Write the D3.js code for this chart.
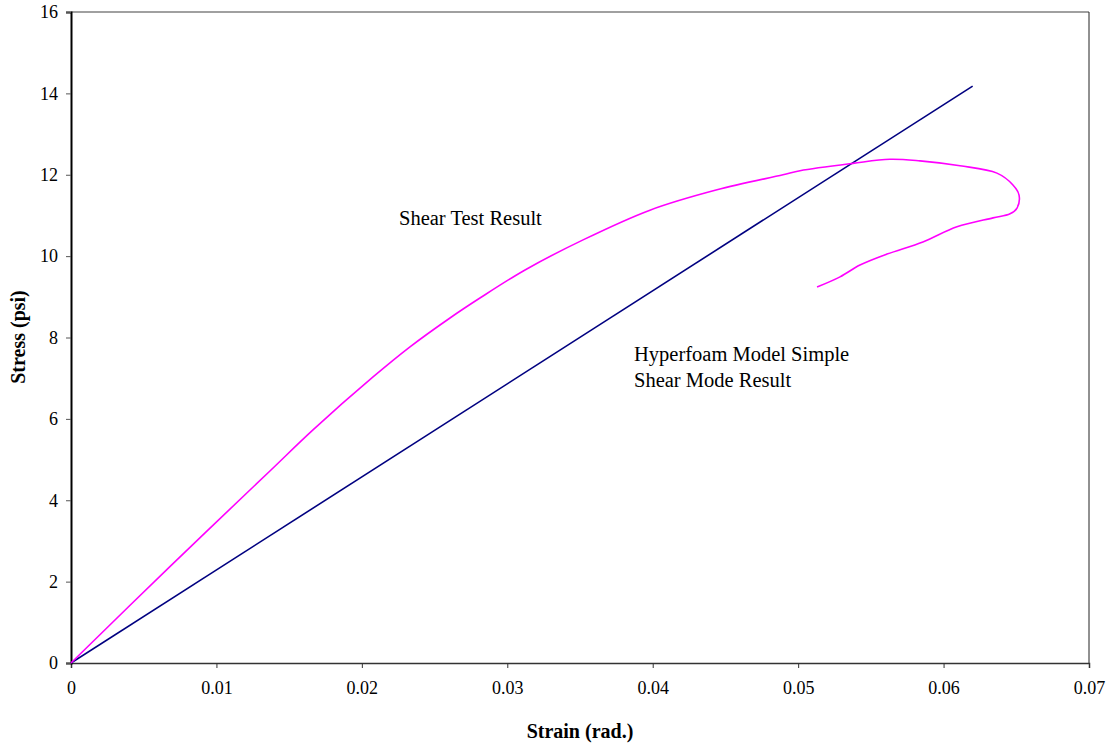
<!DOCTYPE html>
<html>
<head>
<meta charset="utf-8">
<script src="https://cdn.jsdelivr.net/npm/d3@7"></script>
<style>
  body { margin: 0; background: #fff; }
  svg text { font-family: "Liberation Serif", "Times New Roman", serif; fill: #000; }
</style>
</head>
<body>
<div class="chart"></div>
<script>
// shear test result (strain, stress)
var testStrain = [0, 0.0068, 0.01368, 0.01664, 0.02077, 0.02331, 0.02606, 0.02812, 0.03122, 0.03521,
                  0.03981, 0.04442, 0.04896, 0.05013, 0.05377, 0.05631, 0.05838, 0.06113, 0.06367,
                  0.06477, 0.06519, 0.06505, 0.06457, 0.0634, 0.06092, 0.05858, 0.05611, 0.05425,
                  0.05288, 0.0513];
var testStress = [0, 2.37, 4.72, 5.73, 7.03, 7.77, 8.48, 8.97, 9.66, 10.40,
                  11.13, 11.63, 12.00, 12.10, 12.28, 12.38, 12.34, 12.22, 12.04,
                  11.75, 11.50, 11.18, 11.04, 10.94, 10.72, 10.35, 10.05, 9.78,
                  9.49, 9.24];

// hyperfoam model simple shear mode (straight line)
var modelStrain = [0, 0.062];
var modelStress = [0, 14.18];

var xTicks = [0, 0.01, 0.02, 0.03, 0.04, 0.05, 0.06, 0.07];
var yTicks = [0, 2, 4, 6, 8, 10, 12, 14, 16];

(function () {
    var margin = {top: 12, bottom: 84, left: 71, right: 23},
        width = 1112 - margin.left - margin.right,
        height = 747 - margin.top - margin.bottom;

    var x = d3.scaleLinear().domain([0, 0.07]).range([0, width]);
    var y = d3.scaleLinear().domain([0, 16]).range([height, 0]);

    var svg = d3.select('.chart')
                .append('svg')
                .attr('width', 1112)
                .attr('height', 747)
                .append('g')
                .attr('transform', 'translate(' + margin.left + ',' + margin.top + ')');

    // frame: top and right
    svg.append('line')
        .attr('x1', 0).attr('x2', width).attr('y1', 0).attr('y2', 0)
        .attr('stroke', '#808080').attr('stroke-width', 1.5);
    svg.append('line')
        .attr('x1', width).attr('x2', width).attr('y1', 0).attr('y2', height)
        .attr('stroke', '#222').attr('stroke-width', 1);

    // xAxis
    var xAxis = d3.axisBottom(x).tickValues(xTicks).tickSize(5).tickPadding(13)
                  .tickFormat(function (d) { return d === 0 ? '0' : d3.format('.2f')(d); });
    var gx = svg.append('g')
        .attr('transform', 'translate(0,' + height + ')')
        .call(xAxis);
    gx.select('.domain').attr('stroke', '#333').attr('stroke-width', 1.5);
    gx.selectAll('.tick line').attr('stroke', '#333');
    gx.selectAll('.tick text').style('font-size', '18px');

    // yAxis
    var yAxis = d3.axisLeft(y).tickValues(yTicks).tickSize(5).tickPadding(8);
    var gy = svg.append('g').call(yAxis);
    gy.select('.domain').attr('stroke', '#000').attr('stroke-width', 2);
    gy.selectAll('.tick line').attr('stroke', '#555');
    gy.selectAll('.tick text').style('font-size', '18px');

    // lines
    var line = d3.line()
        .x(function (d) { return x(d[0]); })
        .y(function (d) { return y(d[1]); });

    var modelData = d3.zip(modelStrain, modelStress);
    var testData = d3.zip(testStrain, testStress);

    svg.append('path')
        .datum(modelData)
        .attr('fill', 'none')
        .attr('stroke', '#000080')
        .attr('stroke-width', 1.6)
        .attr('d', line);

    svg.append('path')
        .datum(testData)
        .attr('fill', 'none')
        .attr('stroke', '#FF00FF')
        .attr('stroke-width', 1.6)
        .attr('d', line.curve(d3.curveCatmullRom));

    // labels
    svg.append('text')
        .attr('x', 399 - margin.left)
        .attr('y', 225 - margin.top)
        .style('font-size', '20.5px')
        .text('Shear Test Result');

    svg.append('text')
        .attr('x', 634 - margin.left)
        .attr('y', 361 - margin.top)
        .style('font-size', '20.5px')
        .text('Hyperfoam Model Simple');
    svg.append('text')
        .attr('x', 634 - margin.left)
        .attr('y', 387 - margin.top)
        .style('font-size', '20.5px')
        .text('Shear Mode Result');

    // axis titles
    svg.append('text')
        .attr('x', 580 - margin.left)
        .attr('y', 738 - margin.top)
        .attr('text-anchor', 'middle')
        .style('font-size', '20px')
        .style('font-weight', 'bold')
        .text('Strain (rad.)');

    svg.append('text')
        .attr('transform', 'translate(' + (25 - margin.left) + ',' + (337 - margin.top) + ') rotate(-90)')
        .attr('text-anchor', 'middle')
        .style('font-size', '20px')
        .style('font-weight', 'bold')
        .text('Stress (psi)');
})();
</script>
</body>
</html>
